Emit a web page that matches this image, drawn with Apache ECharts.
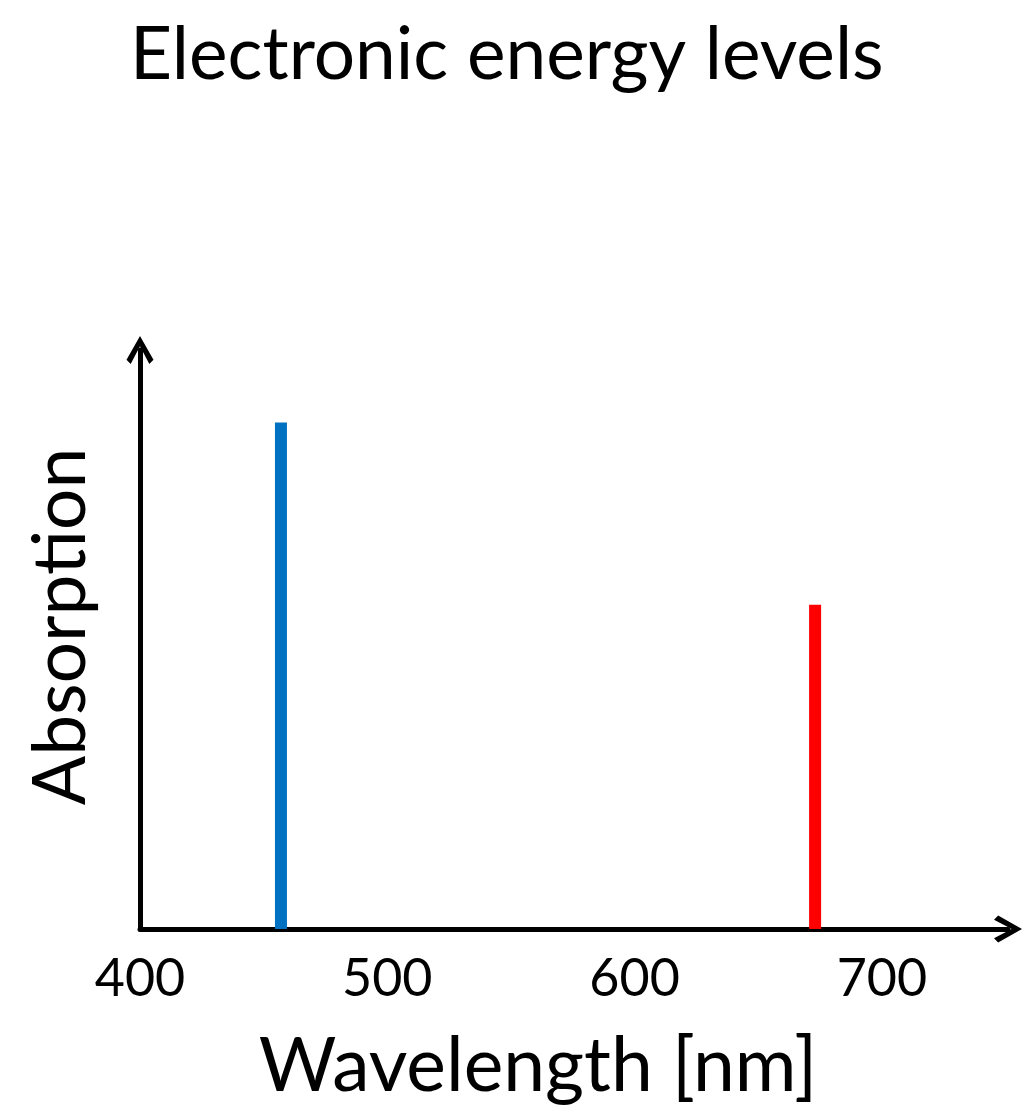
<!DOCTYPE html>
<html>
<head>
<meta charset="utf-8">
<script src="https://cdn.jsdelivr.net/npm/echarts@6/dist/echarts.min.js"></script>
<style>
  html, body { margin: 0; padding: 0; background: #fff; }
  #chart { width: 1026px; height: 1109px; }
</style>
</head>
<body>
<div id="chart"></div>
<script>
// absorption lines: wavelength (nm) and relative height
const wavelengths = [457, 673];
const absorption = [87.5, 56];
const lineColors = ['#0070c0', '#ff0000'];
const xTicks = [400, 500, 600, 700];

const font = 'Lato, "Open Sans", sans-serif';
// open chevron arrow head, pointing up
const arrowPath = 'path://M13,0 L26,23 L22,27 L13,10 L4,27 L0,23 Z';

let myChart = echarts.init(document.getElementById('chart'));
let option = {
  backgroundColor: '#fff',
  title: {
    text: 'Electronic energy levels',
    left: 125,
    top: 14,
    textStyle: { fontFamily: font, fontSize: 73, fontWeight: 'normal', color: '#000' }
  },
  grid: { left: 140, right: 18, top: 350, bottom: 180 },
  xAxis: {
    type: 'value',
    min: xTicks[0],
    max: 751,
    interval: 100,
    name: 'Wavelength [nm]',
    nameLocation: 'middle',
    nameGap: 100,
    nameTextStyle: { fontFamily: font, fontSize: 75, color: '#000', padding: [0, 72, 0, 0] },
    axisLine: {
      lineStyle: { color: '#000', width: 5 },
      symbol: ['none', arrowPath],
      symbolSize: [27, 28]
    },
    axisTick: { show: false },
    splitLine: { show: false },
    axisLabel: {
      fontFamily: font, fontSize: 52, color: '#000', margin: 24,
      showMaxLabel: false,
      formatter: v => xTicks.indexOf(v) >= 0 ? v : ''
    }
  },
  yAxis: {
    type: 'value',
    min: 0,
    max: 100,
    name: 'Absorption',
    nameLocation: 'middle',
    nameGap: 42,
    nameTextStyle: { fontFamily: font, fontSize: 73, color: '#000', padding: [0, 0, 0, 26] },
    axisLine: {
      show: true,
      lineStyle: { color: '#000', width: 5 },
      symbol: ['none', arrowPath],
      symbolSize: [27, 28]
    },
    axisTick: { show: false },
    axisLabel: { show: false },
    splitLine: { show: false }
  },
  series: [{
    type: 'bar',
    barWidth: 12,
    z: 1,
    data: wavelengths.map((w, i) => ({
      value: [w, absorption[i]],
      itemStyle: { color: lineColors[i] }
    }))
  }]
};
myChart.setOption(option);
</script>
</body>
</html>
